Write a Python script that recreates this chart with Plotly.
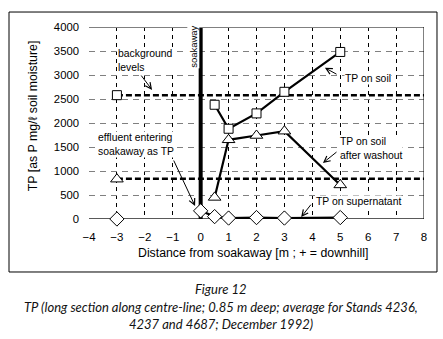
import plotly.graph_objects as go

# ---- data ----
soil_x = [0.5, 1, 2, 3, 5]
soil_y = [2380, 1880, 2200, 2650, 3480]
soil_bg_x = [-3]
soil_bg_y = [2580]
wash_x = [0.5, 1, 2, 3, 5]
wash_y = [450, 1650, 1740, 1830, 710]
wash_bg_x = [-3]
wash_bg_y = [830]
sup_x = [0, 0.5, 1, 2, 3, 5]
sup_y = [170, 50, 20, 30, 20, 30]
sup_bg_x = [-3]
sup_bg_y = [0]
bg_soil_level = 2580
bg_wash_level = 840
bg_x = [-3, 8]
x_ticks = list(range(-4, 9))
y_ticks = list(range(0, 4001, 500))

FONT = "Liberation Sans, Arial, sans-serif"
fig = go.Figure()

# background level lines
fig.add_trace(go.Scatter(x=bg_x, y=[bg_soil_level] * 2, mode="lines",
                         line=dict(color="black", width=2.5, dash="6px,3px"), hoverinfo="skip"))
fig.add_trace(go.Scatter(x=bg_x, y=[bg_wash_level] * 2, mode="lines",
                         line=dict(color="black", width=2.5, dash="6px,3px"), hoverinfo="skip"))
# soakaway line
fig.add_trace(go.Scatter(x=[0, 0], y=[0, 4000], mode="lines",
                         line=dict(color="black", width=4), hoverinfo="skip"))

def mk(s, sz):
    return dict(symbol=s, size=sz, color="white", line=dict(color="black", width=1))

def add(x, y, mode, sym, sz):
    fig.add_trace(go.Scatter(x=x, y=y, mode=mode, cliponaxis=False,
                             line=dict(color="black", width=2.2), marker=mk(sym, sz)))

add(soil_x, soil_y, "lines+markers", "square", 9)
add(soil_bg_x, soil_bg_y, "markers", "square", 9)
add(wash_x, wash_y, "lines+markers", "triangle-up", 11)
add(wash_bg_x, wash_bg_y, "markers", "triangle-up", 11)
add(sup_x, sup_y, "lines+markers", "diamond", 11)
add(sup_bg_x, sup_bg_y, "markers", "diamond", 11)

fig.update_layout(
    width=443, height=339, showlegend=False,
    margin=dict(l=89, r=19, t=27, b=120),
    plot_bgcolor="white", paper_bgcolor="white",
    font=dict(family=FONT, size=11, color="black"),
    xaxis=dict(range=[-4, 8], tickvals=x_ticks, showgrid=True, gridcolor="black",
               griddash="4px,4px", gridwidth=1, zeroline=False, showline=False,
               ticklabelstandoff=9, tickfont=dict(size=11.5)),
    yaxis=dict(range=[0, 4000], tickvals=y_ticks, showgrid=True, gridcolor="#808080",
               griddash="6px,5px", gridwidth=1.2, zeroline=False, showline=False,
               ticklabelstandoff=9, tickfont=dict(size=11.3)),
)

shapes = [
    dict(type="line", xref="x", yref="y", x0=-4, x1=8, y0=4000, y1=4000,
         line=dict(color="#808080", width=2)),
    dict(type="line", xref="x", yref="y", x0=-4, x1=8, y0=0, y1=0,
         line=dict(color="#222", width=1.5), layer="below"),
    dict(type="line", xref="x", yref="y", x0=8, x1=8, y0=0, y1=4000,
         line=dict(color="black", width=1)),
    dict(type="rect", xref="paper", yref="paper", x0=-0.2388, x1=1.0388, y0=-0.276, y1=1.078,
         line=dict(color="black", width=1), layer="below"),
]
fig.update_layout(shapes=shapes)

AF = dict(family=FONT, size=10.4, color="black")
ann = []
def txt(x, y, t, **kw):
    d = dict(x=x, y=y, xref="x", yref="y", text=t, showarrow=False, font=AF,
             xanchor="left", yanchor="middle", align="left", bgcolor="white", borderpad=0)
    d.update(kw)
    ann.append(d)

def arrow(tx, ty, hx, hy):
    ann.append(dict(x=hx, y=hy, ax=tx, ay=ty, xref="x", yref="y", axref="x", ayref="y",
                    text="", showarrow=True, arrowhead=5, arrowsize=1.2, arrowwidth=1,
                    arrowcolor="black"))

txt(-3.0, 3300, "background<br>levels")
txt(-3.71, 1550, "effluent entering<br>soakaway as TP")
txt(5.14, 2937, "TP on soil")
txt(4.96, 1460, "TP on soil<br>after washout")
txt(4.10, 375, "TP on supernatant")
txt(-0.28, 3583, "soakaway", textangle=-90, xanchor="center", font=dict(family=FONT, size=9.5))
arrow(-2.17, 3020, -1.74, 2690)
arrow(-0.99, 1250, -0.2, 270)
arrow(4.92, 3000, 4.45, 3150)
arrow(4.92, 1420, 4.38, 1167)
arrow(3.99, 330, 3.6, 40)

ann.append(dict(x=-0.167, y=0.536, xref="paper", yref="paper", text="TP [as P mg/ℓ soil moisture]",
                showarrow=False, textangle=-90, xanchor="center", yanchor="middle",
                font=dict(family=FONT, size=12.3)))
ann.append(dict(x=0.49, y=-0.177, xref="paper", yref="paper",
                text="Distance from soakaway [m ; + = downhill]", showarrow=False,
                xanchor="center", yanchor="middle", font=dict(family=FONT, size=12.3)))
CF = dict(family="Lato, Open Sans, sans-serif", size=13, color="#111")
for yy, t in [(-0.365, "<i>Figure 12</i>"),
              (-0.458, "<i>TP (long section along centre-line; 0.85 m deep; average for Stands 4236,</i>"),
              (-0.547, "<i>4237 and 4687; December 1992)</i>")]:
    ann.append(dict(x=0.394, y=yy, xref="paper", yref="paper", text=t, showarrow=False,
                    font=CF, xanchor="center", yanchor="middle"))
fig.update_layout(annotations=ann)

fig.write_html("out.html", config={"displayModeBar": False})
with open("out.html", encoding="utf-8") as f:
    html = f.read()
html = html.replace("<head>", "<head><style>html,body{margin:0;padding:0;overflow:hidden;}</style>", 1)
with open("out.html", "w", encoding="utf-8") as f:
    f.write(html)
